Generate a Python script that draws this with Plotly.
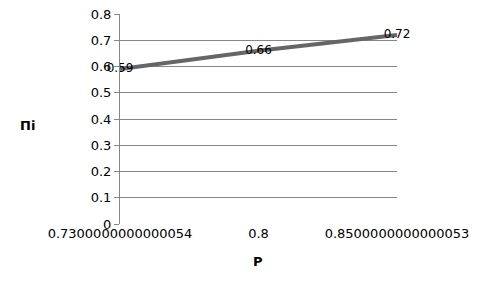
import plotly.graph_objects as go

categories = ["0.7300000000000054", "0.8", "0.8500000000000053"]
values = [0.59, 0.66, 0.72]
labels = ["0.59", "0.66", "0.72"]

fig = go.Figure()
fig.add_trace(go.Scatter(
    x=categories, y=values, mode="lines+text",
    line=dict(color="#666666", width=4),
    text=labels, textposition="middle center",
    textfont=dict(family="DejaVu Sans", size=12, color="#000000"),
    cliponaxis=False, showlegend=False,
))

axis_grey = "#878787"
L, R, T, B = 120, 83, 14, 64
fig.update_layout(
    width=480, height=288,
    margin=dict(l=L, r=R, t=T, b=B, autoexpand=False),
    paper_bgcolor="white", plot_bgcolor="white",
    font=dict(family="DejaVu Sans", size=13, color="#000000"),
    xaxis=dict(type="category", range=[0, 2], showgrid=False,
               showline=False, ticks="", tickfont=dict(size=13),
               zeroline=False, automargin=False),
    yaxis=dict(range=[0, 0.8], dtick=0.1, tickformat="~g",
               showgrid=True, gridcolor=axis_grey, gridwidth=1,
               showline=True, linecolor=axis_grey, linewidth=1,
               ticks="outside", ticklen=5, tickcolor=axis_grey,
               tickfont=dict(size=13), zeroline=False, automargin=False),
)

pw, ph = 480 - L - R, 288 - T - B
def ann(text, px, py):
    return dict(text=text, showarrow=False, font=dict(size=13),
                xref="paper", yref="paper",
                x=(px - L) / pw, y=1 - (py - T) / ph,
                xanchor="center", yanchor="middle")

fig.update_layout(annotations=[ann("<b>Пі</b>", 27, 125), ann("<b>P</b>", 258, 261)])
fig.write_html("out.html")
